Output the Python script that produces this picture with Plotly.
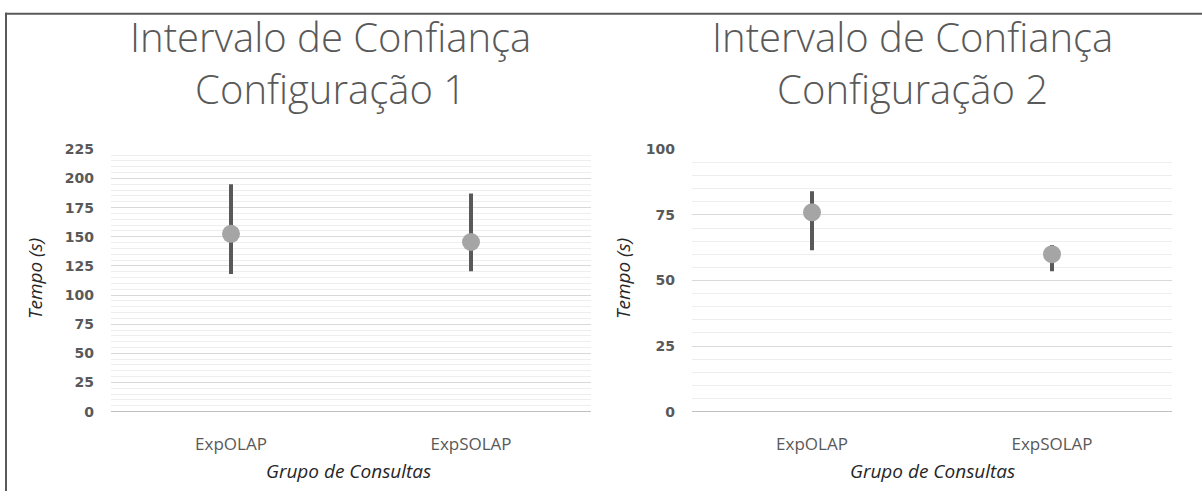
import plotly.graph_objects as go

W, H = 1202, 499

grupos = ["ExpOLAP", "ExpSOLAP"]

# Configuração 1 (tempo em segundos)
media_cfg1 = [152.5, 145.5]
sup_cfg1 = [195, 187]
inf_cfg1 = [118, 120.5]

# Configuração 2
media_cfg2 = [76, 60]
sup_cfg2 = [84, 63.5]
inf_cfg2 = [61.5, 53.5]

titulos = ["Intervalo de Confiança<br>Configuração 1",
           "Intervalo de Confiança<br>Configuração 2"]


def px_x(v):
    return v / W


def px_y(v):
    return 1 - v / H


def serie(media, sup, inf, xa, ya):
    return go.Scatter(
        x=grupos, y=media, mode="markers",
        marker=dict(size=18, color="#a5a5a5"),
        error_y=dict(type="data", symmetric=False,
                     array=[s - m for s, m in zip(sup, media)],
                     arrayminus=[m - i for m, i in zip(media, inf)],
                     thickness=4, width=0, color="#595959"),
        xaxis=xa, yaxis=ya, showlegend=False, hoverinfo="skip",
    )


fig = go.Figure()
fig.add_trace(serie(media_cfg1, sup_cfg1, inf_cfg1, "x", "y"))
fig.add_trace(serie(media_cfg2, sup_cfg2, inf_cfg2, "x2", "y2"))

eixo_x = dict(type="category", range=[-0.5, 1.5], showgrid=False, showline=False,
              zeroline=False, ticks="", ticklabelstandoff=20,
              tickfont=dict(family="Open Sans", size=17, color="#595959"))
eixo_y = dict(showgrid=True, gridcolor="#d9d9d9", gridwidth=1,
              zeroline=True, zerolinecolor="#bfbfbf", zerolinewidth=1,
              showline=False, ticks="", ticklabelstandoff=16,
              tickfont=dict(family="DejaVu Sans", size=14, color="#595959", weight="bold"),
              minor=dict(dtick=5, showgrid=True, gridcolor="#eeeeee", gridwidth=1))

dom_y = [px_y(417), px_y(146)]

fig.update_layout(
    width=W, height=H,
    margin=dict(l=0, r=0, t=0, b=0),
    paper_bgcolor="white", plot_bgcolor="white",
    xaxis=dict(eixo_x, domain=[px_x(111), px_x(591)], anchor="y"),
    yaxis=dict(eixo_y, domain=dom_y, range=[0, 225], dtick=25, anchor="x"),
    xaxis2=dict(eixo_x, domain=[px_x(692), px_x(1172)], anchor="y2"),
    yaxis2=dict(eixo_y, domain=dom_y, range=[0, 100], dtick=25, anchor="x2"),
)

anot = []
for cx, tit in [(330, titulos[0]), (912, titulos[1])]:
    anot.append(dict(text=tit, x=px_x(cx), y=px_y(56),
                     xref="paper", yref="paper", showarrow=False,
                     xanchor="center", yanchor="middle",
                     font=dict(family="Open Sans", size=40, color="#595959", weight=300)))

for cx in [35, 623]:
    anot.append(dict(text="<i>Tempo (s)</i>", x=px_x(cx), y=px_y(280),
                     xref="paper", yref="paper", showarrow=False, textangle=-90,
                     xanchor="center", yanchor="middle",
                     font=dict(family="Open Sans", size=19, color="#262626")))

for cx in [348, 932]:
    anot.append(dict(text="<i>Grupo de Consultas</i>", x=px_x(cx), y=px_y(478),
                     xref="paper", yref="paper", showarrow=False,
                     xanchor="center", yanchor="middle",
                     font=dict(family="Open Sans", size=19, color="#262626")))

fig.update_layout(annotations=anot)

# moldura (topo e esquerda)
fig.add_shape(type="line", xref="paper", yref="paper", x0=px_x(5), x1=1,
              y0=px_y(6), y1=px_y(6), line=dict(color="#595959", width=2))
fig.add_shape(type="line", xref="paper", yref="paper", x0=px_x(6), x1=px_x(6),
              y0=0, y1=px_y(5), line=dict(color="#595959", width=2))

fig.write_html("out.html", config={"displayModeBar": False},
               post_script="document.body.style.margin='0';")
